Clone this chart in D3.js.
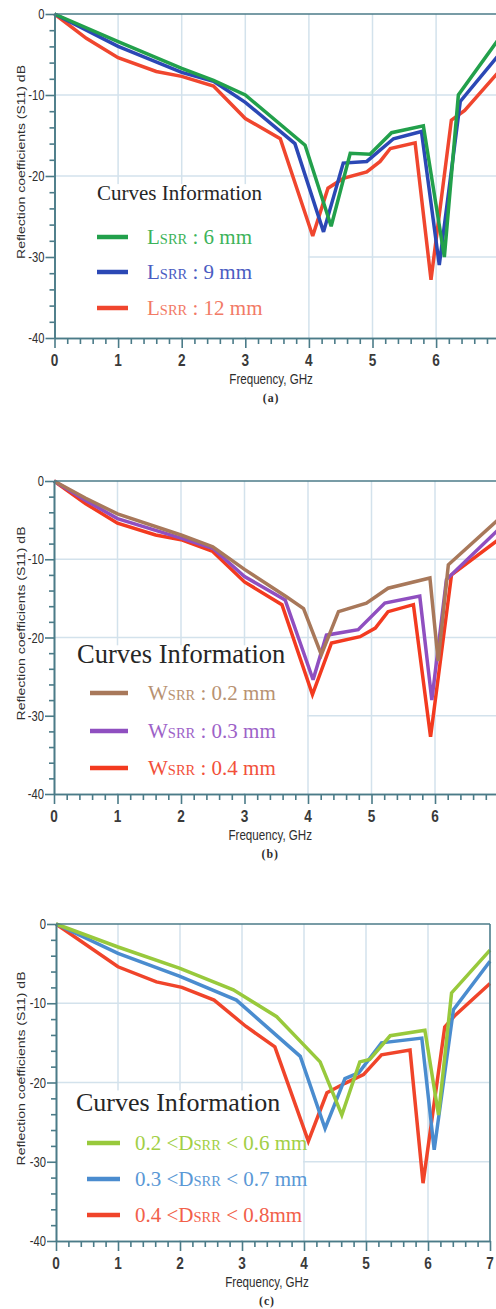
<!DOCTYPE html>
<html>
<head>
<meta charset="utf-8">
<script src="https://cdn.jsdelivr.net/npm/d3@7"></script>
<style>
  html, body { margin: 0; padding: 0; background: #ffffff; }
  svg { display: block; }
</style>
</head>
<body>
<svg id="chart" width="496" height="1309"></svg>
<script>
// ---------- data (frequency GHz, S11 dB) ----------
const xTicks = [0, 1, 2, 3, 4, 5, 6, 7];
const yTicks = [0, -10, -20, -30, -40];
const xLabel = "Frequency, GHz";
const yLabel = "Reflection coefficients (S11) dB";
const legendTitle = "Curves Information";

// panel (a): L_SRR
const a_L6 = [[0,0],[1,-3.4],[2,-6.7],[2.5,-8.2],[3,-10.0],[3.94,-16.2],[4.35,-26.2],[4.65,-17.2],[4.96,-17.3],[5.30,-14.65],[5.80,-13.8],[6.13,-30.0],[6.35,-10.0],[7,-2.9]];
const a_L9 = [[0,0],[1,-4.0],[2,-7.2],[2.5,-8.3],[3,-10.9],[3.78,-16.0],[4.23,-26.9],[4.54,-18.4],[4.91,-18.2],[5.33,-15.4],[5.77,-14.5],[6.05,-31.0],[6.38,-10.8],[7,-4.9]];
const a_L12 = [[0,0],[0.5,-3.0],[1,-5.4],[1.6,-7.1],[2,-7.7],[2.5,-8.9],[3,-12.9],[3.55,-15.4],[4.06,-27.4],[4.3,-21.5],[4.54,-20.3],[4.91,-19.5],[5.12,-18.2],[5.28,-16.6],[5.67,-15.9],[5.92,-32.8],[6.24,-13.1],[6.45,-11.9],[7,-7.0]];

// panel (b): W_SRR
const b_W02 = [[0,0],[0.5,-2.2],[1,-4.2],[2,-6.9],[2.5,-8.4],[3,-11.3],[3.66,-14.8],[3.93,-16.3],[4.21,-22.2],[4.48,-16.7],[4.92,-15.6],[5.26,-13.7],[5.92,-12.4],[6.05,-23.0],[6.21,-10.7],[7,-4.9]];
const b_W03 = [[0,0],[0.5,-2.5],[1,-4.8],[2,-7.3],[2.5,-8.6],[3,-12.2],[3.64,-15.2],[4.08,-25.4],[4.29,-19.7],[4.79,-19.0],[5.21,-15.6],[5.76,-14.7],[5.95,-28.0],[6.18,-12.6],[7,-6.2]];
const b_W04 = [[0,0],[0.5,-2.9],[1,-5.4],[1.6,-6.9],[2,-7.5],[2.5,-9.0],[3,-12.9],[3.59,-15.8],[4.07,-27.3],[4.37,-20.7],[4.82,-19.9],[5.06,-18.8],[5.26,-16.7],[5.66,-15.8],[5.93,-32.7],[6.26,-12.0],[7,-7.5]];

// panel (c): D_SRR
const c_D1 = [[0,0],[1,-2.9],[2,-5.6],[2.86,-8.3],[3.56,-11.7],[4.26,-17.4],[4.61,-24.1],[4.90,-17.4],[5.06,-17.1],[5.39,-14.1],[5.95,-13.4],[6.17,-24.1],[6.38,-8.7],[7,-3.3]];
const c_D2 = [[0,0],[1,-3.7],[2,-6.6],[2.91,-9.6],[3.94,-16.7],[4.34,-25.8],[4.66,-19.5],[4.88,-18.8],[5.25,-15.0],[5.90,-14.4],[6.10,-28.5],[6.41,-10.8],[7,-4.7]];
const c_D3 = [[0,0],[1,-5.4],[1.62,-7.3],[2.03,-8.0],[2.55,-9.6],[3.06,-12.9],[3.53,-15.5],[4.07,-27.4],[4.37,-21.3],[4.66,-20.1],[4.96,-19.0],[5.25,-16.5],[5.71,-15.9],[5.92,-32.7],[6.27,-13.0],[6.44,-11.5],[7,-7.5]];

// legend label pieces: [text, isSmallCaps]
const a_names = [
  [["L",0],["SRR",1],[" : 6 mm",0]],
  [["L",0],["SRR",1],[" : 9 mm",0]],
  [["L",0],["SRR",1],[" : 12 mm",0]]
];
const b_names = [
  [["W",0],["SRR",1],[" : 0.2 mm",0]],
  [["W",0],["SRR",1],[" : 0.3 mm",0]],
  [["W",0],["SRR",1],[" : 0.4 mm",0]]
];
const c_names = [
  [["0.2 <D",0],["SRR",1],[" < 0.6 mm",0]],
  [["0.3 <D",0],["SRR",1],[" < 0.7 mm",0]],
  [["0.4 <D",0],["SRR",1],[" < 0.8mm",0]]
];

// ---------- drawing ----------
const W = 496;
const svg = d3.select("#chart");
const AXIS = "#4b7b88";
const GRID = "#d3e2ec";

const panels = [
  { top: 14,  bottom: 338,  left: 54.5, right: 499.7, tag: "(a)",
    series: [a_L6, a_L9, a_L12], names: a_names,
    colors: ["#22a04b", "#2b48b5", "#f0462e"],
    textColors: ["#3cb35a", "#4a5cc2", "#f27a66"],
    titleSize: 21, titleX: 97, titleY: 200, entryX0: 97, entryX1: 128, textX: 147,
    entryY: [237, 272, 308], textSize: 21, scSize: 14.5 },
  { top: 481, bottom: 794, left: 54, right: 498.5, tag: "(b)",
    series: [b_W02, b_W03, b_W04], names: b_names,
    colors: ["#a8785a", "#8f4fc0", "#f33a1f"],
    textColors: ["#b89272", "#9d62c8", "#f2503a"],
    titleSize: 26.5, titleX: 77, titleY: 663, entryX0: 90, entryX1: 128, textX: 148,
    entryY: [693, 731, 768], textSize: 21, scSize: 14.5 },
  { top: 924, bottom: 1241, left: 56, right: 490, tag: "(c)",
    series: [c_D1, c_D2, c_D3], names: c_names,
    colors: ["#98c93c", "#4a8ccf", "#f0442a"],
    textColors: ["#a2cf45", "#5a98d6", "#f2604a"],
    titleSize: 26, titleX: 76, titleY: 1111, entryX0: 87, entryX1: 120, textX: 135,
    entryY: [1143, 1179, 1215], textSize: 21, scSize: 14.5 }
];

function squeezedText(parent, x, y, str, size, anchor, sx, extra) {
  const t = parent.append("text")
    .attr("transform", `translate(${x},${y}) scale(${sx},1)` + (extra || ""))
    .attr("font-family", "'Liberation Sans', Arial, sans-serif")
    .attr("font-size", size)
    .attr("text-anchor", anchor)
    .attr("fill", "#2e2e2e")
    .text(str);
  return t;
}

panels.forEach(p => {
  const g = svg.append("g");
  const x = d3.scaleLinear().domain([0, 7]).range([p.left, p.right]);
  const y = d3.scaleLinear().domain([-40, 0]).range([p.bottom, p.top]);

  // grid
  g.append("g").selectAll("line").data(xTicks.slice(1)).join("line")
    .attr("x1", d => x(d)).attr("x2", d => x(d))
    .attr("y1", y(0)).attr("y2", y(-40))
    .attr("stroke", GRID).attr("stroke-width", 1.5);
  g.append("g").selectAll("line").data(yTicks.slice(1, -1)).join("line")
    .attr("x1", x(0)).attr("x2", x(7))
    .attr("y1", d => y(d)).attr("y2", d => y(d))
    .attr("stroke", GRID).attr("stroke-width", 1.5);

  // legend backdrop (hides grid)
  g.append("rect")
    .attr("x", x(0) + 1).attr("y", y(-21))
    .attr("width", x(4) - x(0) - 2).attr("height", y(-40) - y(-21) - 1)
    .attr("fill", "#ffffff");

  // curves (first series drawn last = on top)
  const line = d3.line().x(d => x(d[0])).y(d => y(d[1]));
  const cg = g.append("g");
  [2, 1, 0].forEach(i => {
    cg.append("path")
      .datum(p.series[i])
      .attr("d", line)
      .attr("fill", "none")
      .attr("stroke", p.colors[i])
      .attr("stroke-width", 3.5)
      .attr("stroke-linejoin", "miter")
      .attr("stroke-miterlimit", 3);
  });

  // frame top & right
  g.append("line").attr("x1", x(0)).attr("x2", x(7)).attr("y1", y(0)).attr("y2", y(0))
    .attr("stroke", AXIS).attr("stroke-width", 1.5);
  g.append("line").attr("x1", x(7)).attr("x2", x(7)).attr("y1", y(0)).attr("y2", y(-40))
    .attr("stroke", AXIS).attr("stroke-width", 1.5);

  // axes
  const yMinor = d3.range(-38, 0, 2).filter(v => v % 10 !== 0);
  const xMinor = d3.range(1, 35).map(v => v / 5).filter(v => Math.abs(v - Math.round(v)) > 1e-6);

  const yAx = g.append("g").attr("transform", `translate(${x(0)},0)`)
    .call(d3.axisLeft(y).tickValues(yTicks).tickSize(9).tickSizeOuter(0).tickFormat(""));
  const yAxm = g.append("g").attr("transform", `translate(${x(0)},0)`)
    .call(d3.axisLeft(y).tickValues(yMinor).tickSize(5).tickSizeOuter(0).tickFormat(""));
  const xAx = g.append("g").attr("transform", `translate(0,${y(-40)})`)
    .call(d3.axisBottom(x).tickValues(xTicks).tickSize(10).tickSizeOuter(0).tickFormat(""));
  const xAxm = g.append("g").attr("transform", `translate(0,${y(-40)})`)
    .call(d3.axisBottom(x).tickValues(xMinor).tickSize(6).tickSizeOuter(0).tickFormat(""));
  [yAx, yAxm, xAx, xAxm].forEach(a => {
    a.selectAll("path,line").attr("stroke", AXIS).attr("stroke-width", 1.6);
  });

  // tick labels
  yTicks.forEach(v => {
    squeezedText(g, x(0) - 10, y(v) + 5, String(v), 14, "end", 0.8);
  });
  xTicks.filter(v => x(v) + 4 <= W).forEach(v => {
    squeezedText(g, x(v), y(-40) + 28, String(v), 17, "middle", 0.8).attr("font-weight", "bold").attr("fill", "#3a3a3a");
  });
  squeezedText(g, (x(0) + x(7)) / 2 - 6, y(-40) + 46, xLabel, 14.5, "middle", 0.8);
  squeezedText(g, (x(0) + x(7)) / 2 - 6, y(-40) + 64, p.tag, 12.5, "middle", 0.95)
    .attr("font-family", "'Liberation Serif', serif").attr("font-weight", "bold").attr("letter-spacing", 1);
  squeezedText(g, 25, (y(0) + y(-40)) / 2 - 14, yLabel, 14, "middle", 0.82, " rotate(-90)");

  // legend
  g.append("text")
    .attr("x", p.titleX).attr("y", p.titleY)
    .attr("font-family", "'Liberation Serif', 'Times New Roman', serif")
    .attr("font-size", p.titleSize)
    .attr("fill", "#262626")
    .text(legendTitle);
  p.names.forEach((parts, i) => {
    const ey = p.entryY[i];
    g.append("line")
      .attr("x1", p.entryX0).attr("x2", p.entryX1)
      .attr("y1", ey).attr("y2", ey)
      .attr("stroke", p.colors[i]).attr("stroke-width", 4.5);
    const t = g.append("text")
      .attr("x", p.textX).attr("y", ey + 7)
      .attr("font-family", "'Liberation Serif', 'Times New Roman', serif")
      .attr("fill", p.textColors[i]);
    parts.forEach(([s, sc]) => {
      t.append("tspan").attr("font-size", sc ? p.scSize : p.textSize).text(s);
    });
  });
});
</script>
</body>
</html>
